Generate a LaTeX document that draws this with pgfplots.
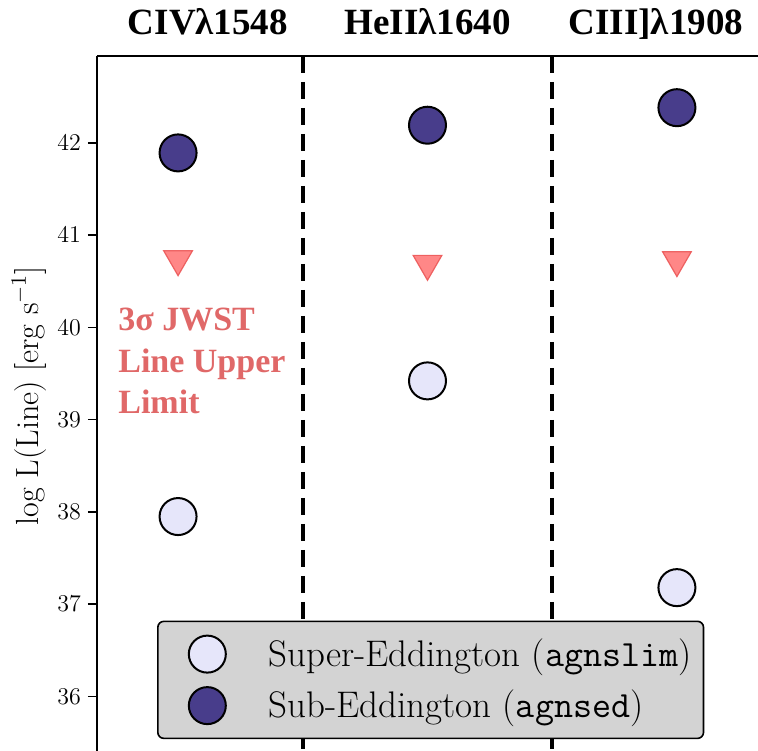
\documentclass[border=0pt]{standalone}
\usepackage{fontspec}
\usepackage{pgfplots}
\pgfplotsset{compat=1.18}
\newfontfamily\tnr{Liberation Serif}
\definecolor{subcol}{RGB}{72,61,139}
\definecolor{supcol}{RGB}{230,230,250}
\definecolor{trifill}{RGB}{255,122,122}
\definecolor{triedge}{RGB}{236,88,88}
\definecolor{anncol}{RGB}{224,104,104}
\definecolor{leggray}{RGB}{211,211,211}
\begin{document}
\begin{tikzpicture}
\begin{axis}[
  scale only axis,
  width=330.5pt, height=347.5pt,
  xmin=-0.325, xmax=2.325, ymin=35.41, ymax=42.94,
  axis x line*=top, axis y line*=left,
  axis line style={line width=0.8pt},
  xtick=\empty,
  ytick={36,37,38,39,40,41,42},
  tick align=outside,
  major tick length=4.5pt,
  every tick/.style={black, line width=0.8pt},
  tick label style={font=\fontsize{13}{15}\selectfont},
  ylabel={log L(Line) [erg s$^{-1}$]},
  ylabel style={at={(axis description cs:-0.1029,0.511)}, anchor=center, font=\fontsize{16}{19}\selectfont},
  clip=false,
  legend cell align=left,
  legend image code/.code={\path (-20.35pt,0pt); \draw[#1] plot coordinates {(0pt,0pt)};},
  legend style={at={(0.0908,0.017)}, anchor=south west, fill=leggray, draw=black,
    line width=0.8pt, rounded corners=3pt, inner xsep=4pt, inner ysep=6.7pt,
    row sep=6.4pt, column sep=19.4pt,
    nodes={inner sep=2pt},
    font=\fontsize{18.5}{22}\selectfont},
]
\coordinate (SW) at (rel axis cs:0,0);
\coordinate (NE) at (rel axis cs:1,1);
% separators
\addplot[forget plot, black, line width=2.2pt, dash pattern=on 8.5pt off 4.5pt] coordinates {(0.5,42.94) (0.5,35.41)};
\addplot[forget plot, black, line width=2.2pt, dash pattern=on 8.5pt off 4.5pt] coordinates {(1.5,42.94) (1.5,35.41)};
% upper limits
\addplot[forget plot, only marks, mark=triangle*, mark size=8.3pt,
  mark options={rotate=180, fill=trifill, draw=triedge, line width=0.6pt, opacity=0.9}]
  coordinates {(0,40.74) (1,40.69) (2,40.73)};
% super-Eddington
\addplot[only marks, mark=*, mark size=9.25pt, mark options={fill=supcol, draw=black, line width=1pt}]
  coordinates {(0,37.95) (1,39.42) (2,37.18)};
\addlegendentry{Super-Eddington (\texttt{agnslim})}
% sub-Eddington
\addplot[only marks, mark=*, mark size=9.25pt, mark options={fill=subcol, draw=black, line width=1pt}]
  coordinates {(0,41.89) (1,42.19) (2,42.38)};
\addlegendentry{Sub-Eddington (\texttt{agnsed})}
% titles
\node[anchor=base, font=\tnr\bfseries\fontsize{18.5}{22}\selectfont, yshift=10.5pt] at (axis cs:0.12,42.94) {CIVλ1548};
\node[anchor=base, font=\tnr\bfseries\fontsize{18.5}{22}\selectfont, yshift=10.5pt] at (axis cs:1.0,42.94) {HeIIλ1640};
\node[anchor=base, font=\tnr\bfseries\fontsize{18.5}{22}\selectfont, yshift=10.5pt] at (axis cs:1.916,42.94) {CIII]λ1908};
% annotation
\node[anchor=base west, inner sep=0pt, text=anncol, font=\tnr\bfseries\fontsize{17}{20}\selectfont] at (axis cs:-0.241,39.971) {3σ JWST};
\node[anchor=base west, inner sep=0pt, text=anncol, font=\tnr\bfseries\fontsize{17}{20}\selectfont] at (axis cs:-0.241,39.516) {Line Upper};
\node[anchor=base west, inner sep=0pt, text=anncol, font=\tnr\bfseries\fontsize{17}{20}\selectfont] at (axis cs:-0.241,39.072) {Limit};
\end{axis}
\pgfresetboundingbox
\useasboundingbox ([xshift=-48.5pt]SW) rectangle ([yshift=28pt]NE);
\end{tikzpicture}
\end{document}
